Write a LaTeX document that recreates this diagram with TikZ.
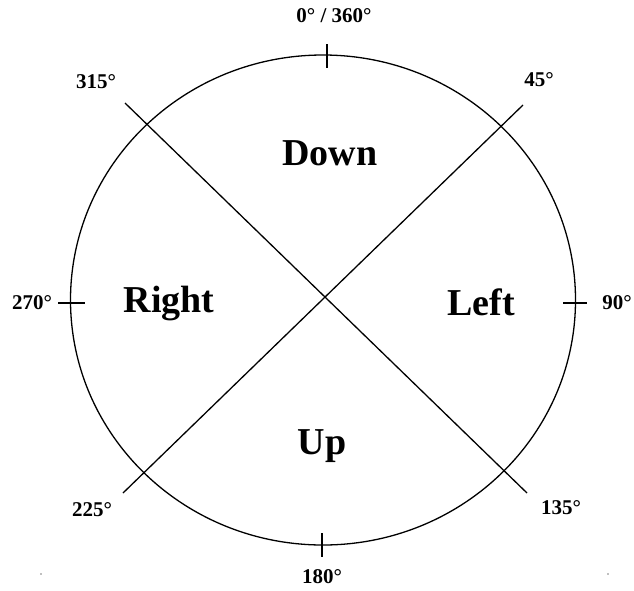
\documentclass[tikz,border=0pt]{standalone}
\usepackage{fontspec}
\setmainfont{Liberation Serif}
\usetikzlibrary{positioning}

\begin{document}
\begin{tikzpicture}[
  x=1pt, y=-1pt,
  deg/.style={font=\fontsize{21}{21}\selectfont\bfseries, inner sep=0pt},
  dir/.style={font=\fontsize{38}{38}\selectfont\bfseries, inner sep=0pt},
  ln/.style={line width=1.3pt},
  tick/.style={line width=1.1pt}
]
\useasboundingbox (0,0) rectangle (634,590);

% circle
\coordinate (c) at (323,300);
\draw[ln] (c) ellipse [x radius=252.5, y radius=245];

% diagonals
\coordinate (e315) at (125,103);
\coordinate (e45) at (523,105);
\coordinate (e225) at (123,493);
\coordinate (e135) at (527,493);
\draw[ln] (e315) -- (e135);
\draw[ln] (e45) -- (e225);

% ticks
\coordinate (t0a) at (327,44);  \coordinate (t0b) at (327,68);
\coordinate (t180a) at (322,533); \coordinate (t180b) at (322,557);
\coordinate (t270a) at (58,303); \coordinate (t270b) at (85,303);
\coordinate (t90a) at (563,303); \coordinate (t90b) at (587,303);
\draw[tick] (t0a) -- (t0b);
\draw[tick] (t180a) -- (t180b);
\draw[tick] (t270a) -- (t270b);
\draw[tick] (t90a) -- (t90b);

% angle labels
\node[deg] (l0) at (334,16) {0° / 360°};
\node[deg] (l315) at (96,82) {315°};
\node[deg] (l45) at (539,80) {45°};
\node[deg] (l270) at (32,303) {270°};
\node[deg] (l90) at (617,303) {90°};
\node[deg] (l225) at (92,510) {225°};
\node[deg] (l135) at (561,508) {135°};
\node[deg] (l180) at (322,577) {180°};

% directions
\node[dir] (down) at (330,153) {Down};
\node[dir] (right) at (169,304) {Right};
\node[dir] (left) at (481,302) {Left};
\node[dir] (up) at (322,446) {Up};

% stray dots
\fill[gray] (41,574) circle (0.8);
\fill[gray] (608,574) circle (0.8);
\end{tikzpicture}
\end{document}
